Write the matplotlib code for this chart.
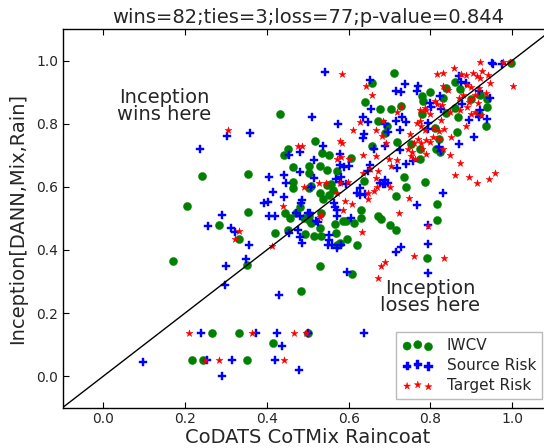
import numpy as np
import matplotlib
matplotlib.use("Agg")
import matplotlib.pyplot as plt
from matplotlib.ticker import FormatStrFormatter

# (CoDATS CoTMix Raincoat score, Inception[DANN,Mix,Rain] score)
iwcv = [
    (0.171, 0.366), (0.204, 0.539), (0.242, 0.635), (0.284, 0.480), (0.331, 0.434),
    (0.352, 0.353), (0.355, 0.640), (0.355, 0.521), (0.433, 0.830), (0.443, 0.700),
    (0.451, 0.719), (0.463, 0.663), (0.502, 0.666), (0.504, 0.643), (0.518, 0.746),
    (0.535, 0.707), (0.553, 0.702), (0.531, 0.666), (0.548, 0.653), (0.571, 0.650),
    (0.606, 0.690), (0.637, 0.618), (0.639, 0.868), (0.658, 0.930), (0.676, 0.847),
    (0.704, 0.847), (0.710, 0.959), (0.672, 0.809), (0.694, 0.793), (0.688, 0.770),
    (0.658, 0.729), (0.719, 0.743), (0.729, 0.857), (0.735, 0.632), (0.741, 0.600),
    (0.998, 0.993), (0.860, 0.933), (0.839, 0.912), (0.798, 0.899), (0.780, 0.887),
    (0.782, 0.872), (0.872, 0.909), (0.921, 0.890), (0.939, 0.877), (0.831, 0.882),
    (0.899, 0.877), (0.860, 0.849), (0.838, 0.835), (0.939, 0.854), (0.919, 0.831),
    (0.868, 0.820), (0.937, 0.794), (0.780, 0.832), (0.811, 0.785), (0.821, 0.750),
    (0.864, 0.772), (0.753, 0.735), (0.775, 0.719), (0.813, 0.721), (0.823, 0.710),
    (0.774, 0.688), (0.717, 0.572), (0.672, 0.507), (0.680, 0.497), (0.700, 0.478),
    (0.717, 0.463), (0.631, 0.526), (0.631, 0.500), (0.614, 0.484), (0.594, 0.490),
    (0.586, 0.493), (0.567, 0.481), (0.620, 0.416), (0.596, 0.434), (0.578, 0.421),
    (0.571, 0.416), (0.568, 0.454), (0.553, 0.574), (0.561, 0.589), (0.537, 0.561),
    (0.530, 0.579), (0.558, 0.609), (0.547, 0.605), (0.507, 0.603), (0.502, 0.595),
    (0.463, 0.595), (0.463, 0.616), (0.508, 0.484), (0.502, 0.495), (0.531, 0.468),
    (0.533, 0.444), (0.516, 0.444), (0.494, 0.450), (0.533, 0.516), (0.502, 0.507),
    (0.490, 0.502), (0.472, 0.516), (0.480, 0.537), (0.445, 0.516), (0.457, 0.501),
    (0.451, 0.463), (0.421, 0.455), (0.530, 0.349), (0.609, 0.323), (0.484, 0.271),
    (0.788, 0.616), (0.817, 0.547), (0.815, 0.495), (0.792, 0.374), (0.265, 0.138),
    (0.331, 0.138), (0.500, 0.138), (0.415, 0.104), (0.218, 0.050), (0.244, 0.050),
    (0.352, 0.050),
]

source_risk = [
    (0.096, 0.046), (0.239, 0.138), (0.374, 0.138), (0.425, 0.138), (0.500, 0.138),
    (0.637, 0.138), (0.437, 0.095), (0.253, 0.050), (0.314, 0.050), (0.420, 0.050),
    (0.291, 0.000), (0.478, 0.019), (0.300, 0.348), (0.297, 0.290), (0.348, 0.371),
    (0.429, 0.257), (0.595, 0.331), (0.793, 0.327), (0.257, 0.477), (0.289, 0.510),
    (0.313, 0.469), (0.323, 0.456), (0.357, 0.416), (0.236, 0.719), (0.303, 0.761),
    (0.358, 0.771), (0.406, 0.630), (0.542, 0.965), (0.653, 0.938), (0.715, 0.903),
    (0.729, 0.899), (0.739, 0.926), (0.510, 0.820), (0.575, 0.798), (0.635, 0.820),
    (0.647, 0.806), (0.655, 0.847), (0.690, 0.799), (0.696, 0.772), (0.717, 0.808),
    (0.731, 0.822), (0.741, 0.806), (0.725, 0.780), (0.637, 0.768), (0.635, 0.753),
    (0.537, 0.729), (0.481, 0.711), (0.453, 0.701), (0.515, 0.684), (0.663, 0.719),
    (0.688, 0.729), (0.725, 0.715), (0.579, 0.704), (0.579, 0.669), (0.588, 0.662),
    (0.600, 0.666), (0.480, 0.648), (0.441, 0.638), (0.515, 0.627), (0.570, 0.625),
    (0.582, 0.632), (0.652, 0.668), (0.648, 0.650), (0.688, 0.622), (0.684, 0.608),
    (0.718, 0.658), (0.507, 0.598), (0.447, 0.611), (0.950, 0.993), (0.954, 0.988),
    (0.974, 0.990), (0.870, 0.951), (0.770, 0.918), (0.766, 0.902), (0.876, 0.933),
    (0.888, 0.928), (0.919, 0.902), (0.823, 0.888), (0.798, 0.865), (0.802, 0.854),
    (0.825, 0.846), (0.878, 0.861), (0.921, 0.844), (0.945, 0.880), (0.919, 0.820),
    (0.939, 0.814), (0.895, 0.811), (0.793, 0.782), (0.794, 0.801), (0.906, 0.758),
    (0.870, 0.735), (0.821, 0.727), (0.825, 0.713), (0.741, 0.671), (0.757, 0.681),
    (0.578, 0.616), (0.594, 0.608), (0.414, 0.584), (0.441, 0.567), (0.394, 0.548),
    (0.402, 0.553), (0.406, 0.507), (0.420, 0.507), (0.485, 0.558), (0.484, 0.548),
    (0.472, 0.518), (0.480, 0.508), (0.500, 0.516), (0.506, 0.516), (0.526, 0.487),
    (0.521, 0.490), (0.455, 0.455), (0.475, 0.463), (0.480, 0.442), (0.486, 0.421),
    (0.551, 0.447), (0.553, 0.431), (0.549, 0.416), (0.560, 0.416), (0.572, 0.405),
    (0.582, 0.416), (0.564, 0.550), (0.567, 0.537), (0.571, 0.526), (0.571, 0.507),
    (0.606, 0.500), (0.620, 0.579), (0.627, 0.574), (0.627, 0.595), (0.639, 0.577),
    (0.677, 0.613), (0.688, 0.610), (0.696, 0.613), (0.717, 0.394), (0.729, 0.410),
    (0.831, 0.579), (0.767, 0.543), (0.793, 0.479), (0.793, 0.418),
]

target_risk = [
    (0.210, 0.138), (0.363, 0.138), (0.466, 0.138), (0.495, 0.138), (0.249, 0.050),
    (0.283, 0.050), (0.442, 0.050), (0.673, 0.311), (0.680, 0.350), (0.688, 0.362),
    (0.761, 0.381), (0.833, 0.374), (0.412, 0.413), (0.323, 0.434), (0.331, 0.459),
    (0.633, 0.456), (0.795, 0.477), (0.304, 0.780), (0.583, 0.957), (0.643, 0.920),
    (0.657, 0.890), (0.729, 0.857), (0.718, 0.836), (0.684, 0.809), (0.629, 0.806),
    (0.610, 0.780), (0.668, 0.780), (0.681, 0.760), (0.749, 0.767), (0.578, 0.745),
    (0.584, 0.738), (0.475, 0.730), (0.486, 0.730), (0.692, 0.738), (0.635, 0.701),
    (0.572, 0.688), (0.582, 0.695), (0.600, 0.687), (0.667, 0.698), (0.699, 0.687),
    (0.719, 0.684), (0.704, 0.666), (0.671, 0.650), (0.653, 0.655), (0.580, 0.613),
    (0.635, 0.643), (0.492, 0.600), (0.527, 0.613), (0.545, 0.613), (0.668, 0.627),
    (0.670, 0.600), (0.700, 0.600), (0.598, 0.616), (0.439, 0.540), (0.571, 0.579),
    (0.592, 0.556), (0.609, 0.546), (0.647, 0.579), (0.663, 0.588), (0.647, 0.561),
    (0.586, 0.526), (0.533, 0.514), (0.530, 0.503), (0.722, 0.518), (0.921, 0.994),
    (0.978, 0.994), (0.994, 0.994), (0.858, 0.975), (0.817, 0.957), (0.831, 0.959),
    (0.927, 0.967), (0.876, 0.957), (0.888, 0.954), (0.904, 0.959), (0.913, 0.951),
    (0.921, 0.944), (0.941, 0.954), (0.945, 0.930), (0.831, 0.918), (0.843, 0.907),
    (1.001, 0.918), (0.890, 0.922), (0.900, 0.917), (0.920, 0.912), (0.910, 0.892),
    (0.935, 0.897), (0.880, 0.892), (0.870, 0.882), (0.894, 0.870), (0.900, 0.877),
    (0.917, 0.865), (0.829, 0.859), (0.847, 0.838), (0.872, 0.844), (0.890, 0.852),
    (0.910, 0.837), (0.900, 0.832), (0.925, 0.827), (0.812, 0.872), (0.815, 0.862),
    (0.786, 0.849), (0.774, 0.844), (0.827, 0.811), (0.800, 0.832), (0.790, 0.842),
    (0.767, 0.801), (0.774, 0.809), (0.887, 0.793), (0.776, 0.791), (0.786, 0.781),
    (0.810, 0.786), (0.821, 0.777), (0.833, 0.783), (0.851, 0.759), (0.806, 0.759),
    (0.798, 0.743), (0.790, 0.748), (0.770, 0.750), (0.760, 0.740), (0.776, 0.740),
    (0.847, 0.701), (0.872, 0.675), (0.753, 0.698), (0.762, 0.688), (0.780, 0.720),
    (0.790, 0.705), (0.820, 0.750), (0.830, 0.720), (0.745, 0.720), (0.755, 0.710),
    (0.860, 0.638), (0.895, 0.632), (0.913, 0.611), (0.943, 0.626), (0.958, 0.643),
    (0.748, 0.566),
]

title = "wins=82;ties=3;loss=77;p-value=0.844"
x_label = "CoDATS CoTMix Raincoat"
y_label = "Inception[DANN,Mix,Rain]"
ticks = [0.0, 0.2, 0.4, 0.6, 0.8, 1.0]

TEXT = "#262626"

fig = plt.figure(figsize=(5.44, 4.48), dpi=100)
# the right spine sits just past the picture's edge, as in the original crop
ax = fig.add_axes([0.1149, 0.0900, 0.9017, 0.8453])

series = [
    ("IWCV", iwcv, "o", "green", 34),
    ("Source Risk", source_risk, "P", "blue", 38),
    ("Target Risk", target_risk, "*", "red", 28),
]
for name, pts, marker, color, size in series:
    arr = np.array(pts)
    ax.scatter(arr[:, 0], arr[:, 1], marker=marker, s=size, c=color,
               edgecolors="face", linewidths=0.3, label=name, zorder=2)

ax.plot([-0.1, 1.1], [-0.1, 1.1], color="black", lw=1, zorder=3)

ax.set_xlim(-0.1, 1.1)
ax.set_ylim(-0.1, 1.1)
ax.set_xticks(ticks)
ax.set_yticks(ticks)
ax.xaxis.set_major_formatter(FormatStrFormatter("%.1f"))
ax.yaxis.set_major_formatter(FormatStrFormatter("%.1f"))
ax.tick_params(direction="in", length=4, width=0.8, top=True, right=True,
               labelsize=10, labelcolor=TEXT, pad=3)
for sp in ax.spines.values():
    sp.set_linewidth(1.0)

ax.set_title(title, fontsize=14, color=TEXT, pad=4.5)
ax.set_xlabel(x_label, fontsize=14, color=TEXT)
ax.xaxis.set_label_coords(0.5, -0.053)
ax.set_ylabel(y_label, fontsize=14, color=TEXT)
ax.yaxis.set_label_coords(-0.072, 0.5)

ax.text(0.148, 0.856, "Inception\nwins here", ha="center", va="center",
        fontsize=14, color=TEXT, linespacing=0.9)
ax.text(0.799, 0.251, "Inception\nloses here", ha="center", va="center",
        fontsize=14, color=TEXT, linespacing=0.9)

leg = ax.legend(loc="lower left", bbox_to_anchor=(0.6807, 0.0222), borderaxespad=0,
                scatterpoints=3, scatteryoffsets=[0.375, 0.5, 0.3125], fontsize=11,
                fancybox=False, edgecolor="#bbbbbb", framealpha=1,
                labelspacing=0.33, handletextpad=0.9, borderpad=0.4)
leg.get_frame().set_linewidth(1.0)
for t in leg.get_texts():
    t.set_color(TEXT)

fig.savefig("out.png", dpi=100)
